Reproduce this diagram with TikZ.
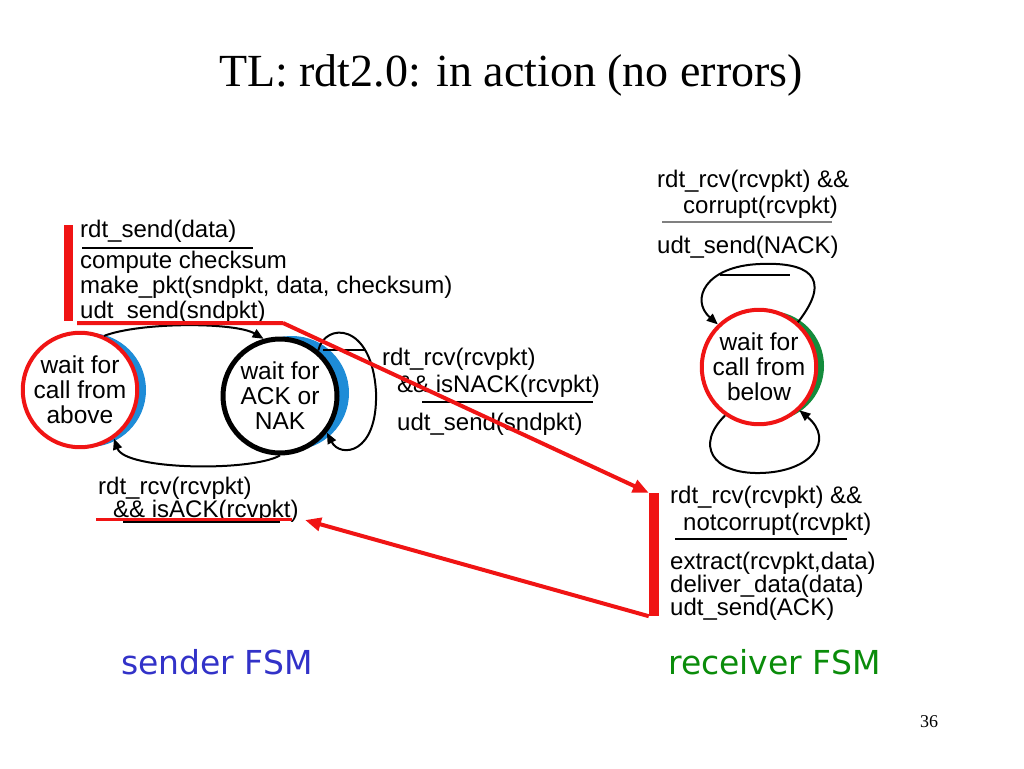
\documentclass[tikz,border=0pt]{standalone}
\usepackage{fontspec}
\setmainfont{Liberation Sans}
\newfontfamily\seriffont{Liberation Serif}
\newfontfamily\fsmfont{DejaVu Sans}
\usetikzlibrary{arrows.meta}
\definecolor{myred}{RGB}{240,20,20}
\definecolor{myblue}{RGB}{30,140,215}
\definecolor{mygreen}{RGB}{20,140,60}
\definecolor{fsmblue}{RGB}{50,50,200}
\definecolor{fsmgreen}{RGB}{10,140,10}
\begin{document}
\begin{tikzpicture}[x=1pt,y=-1pt,
  lbl/.style={anchor=base west, inner sep=0pt, font=\fontsize{24}{25}\selectfont},
  state/.style={circle, minimum size=114pt, inner sep=0pt, align=center, fill=white, font=\fontsize{24.5}{25}\selectfont},
  shadow/.style={circle, minimum size=114pt, inner sep=0pt},
  trans/.style={line width=2pt, -{Triangle[length=11pt,width=9pt]}},
  thinline/.style={line width=1.5pt},
  guard/.style={line width=2.5pt},
  redbar/.style={fill=myred, inner sep=0pt},
  redarrow/.style={myred, line width=4pt, -{Triangle[length=16pt,width=13pt]}}
]
\useasboundingbox (0,0) rectangle (1024,768);

\node[anchor=base, inner sep=0pt, font=\seriffont\fontsize{46}{46}\selectfont] (title) at (511,86) {TL: rdt2.0: in action (no errors)};

% states
\node[shadow, fill=myblue] (s1sh) at (89,390) {};
\node[state, draw=myred, line width=4pt] (s1) at (80,390) {wait for\\call from\\above};
\node[shadow, fill=myblue] (s2sh) at (292,393) {};
\node[state, draw=black, line width=5pt] (s2) at (280,396) {wait for\\ACK or\\NAK};
\node[shadow, minimum size=110pt, fill=mygreen] (rsh) at (769,366) {};
\node[state, minimum size=110pt, draw=myred, line width=4pt] (r) at (759,367) {wait for\\call from\\below};

% sender top label
\node[lbl] (sa) at (80,237) {rdt\_send(data)};
\draw[guard] (82,248) -- (253,248);
\node[lbl] (sb) at (80,268) {compute checksum};
\node[lbl] (sc) at (80,293) {make\_pkt(sndpkt, data, checksum)};
\node[lbl] (sd) at (80,318) {udt\_send(sndpkt)};

% NACK label
\node[lbl] (na) at (382,365) {rdt\_rcv(rcvpkt)};
\node[lbl] (nb) at (397,392) {\&\& isNACK(rcvpkt)};
\draw[guard] (422,402) -- (593,402);
\node[lbl] (nc) at (397,430) {udt\_send(sndpkt)};

% ACK label
\node[lbl] (aa) at (98,494) {rdt\_rcv(rcvpkt)};
\node[lbl] (ab) at (113,517) {\&\& isACK(rcvpkt)};
\draw[guard] (123,522) -- (280,522);
\draw[myred, line width=3pt] (96,519) -- (292,519);

% receiver top label
\node[lbl] (ca) at (657,187) {rdt\_rcv(rcvpkt) \&\&};
\node[lbl] (cb) at (683,213) {corrupt(rcvpkt)};
\draw[gray, line width=1.5pt] (662,222) -- (832,222);
\node[lbl] (cc) at (657,253) {udt\_send(NACK)};

% receiver bottom label
\node[lbl] (da) at (670,503) {rdt\_rcv(rcvpkt) \&\&};
\node[lbl] (db) at (683,530) {notcorrupt(rcvpkt)};
\draw[guard] (675,539) -- (847,539);
\node[lbl] (dc) at (670,569) {extract(rcvpkt,data)};
\node[lbl] (dd) at (670,592) {deliver\_data(data)};
\node[lbl] (de) at (670,615) {udt\_send(ACK)};

% transitions sender
\draw[trans] (s1.66) .. controls (140,322) and (235,322) .. (s2.106);
\draw[trans] (s2.270) .. controls (250,472) and (125,470) .. (s1.-55);
\coordinate (la) at (323,350);
\coordinate (lb) at (365,350);
\draw[thinline] (la) -- (lb);
\draw[trans] (s2.50) .. controls (325,322) and (372,322) .. (376,392) .. controls (378,455) and (340,458) .. (s2.-38);

% transitions receiver
\coordinate (ra) at (720,275);
\coordinate (rb) at (790,275);
\draw[thinline] (ra) -- (rb);
\draw[trans] (r.49) .. controls (835,275) and (805,262) .. (760,264) .. controls (705,266) and (690,300) .. (r.134);
\draw[trans] (r.-125) .. controls (695,445) and (712,474) .. (760,473) .. controls (812,472) and (835,440) .. (r.-47);

% red bars and arrows
\node[redbar, minimum width=9pt, minimum height=96pt] (sbar) at (68.5,273) {};
\node[redbar, minimum width=10pt, minimum height=123pt] (rbar) at (654,554.5) {};
\coordinate (bend) at (283,323);
\coordinate (acktip) at (305,520);
\draw[myred, line width=4pt] ([shift={(4,2)}]sbar.south east) -- (bend);
\draw[redarrow] (bend) -- (rbar.north west);
\draw[redarrow] (rbar.south west) -- (acktip);

% captions
\node[anchor=base west, inner sep=0pt, font=\fsmfont\fontsize{33}{33}\selectfont, text=fsmblue] (sfsm) at (121,674) {sender FSM};
\node[anchor=base west, inner sep=0pt, font=\fsmfont\fontsize{33}{33}\selectfont, text=fsmgreen] (rfsm) at (668,674) {receiver FSM};
\node[anchor=base, inner sep=0pt, font=\seriffont\fontsize{18}{18}\selectfont] (pg) at (929,727) {36};
\end{tikzpicture}
\end{document}
